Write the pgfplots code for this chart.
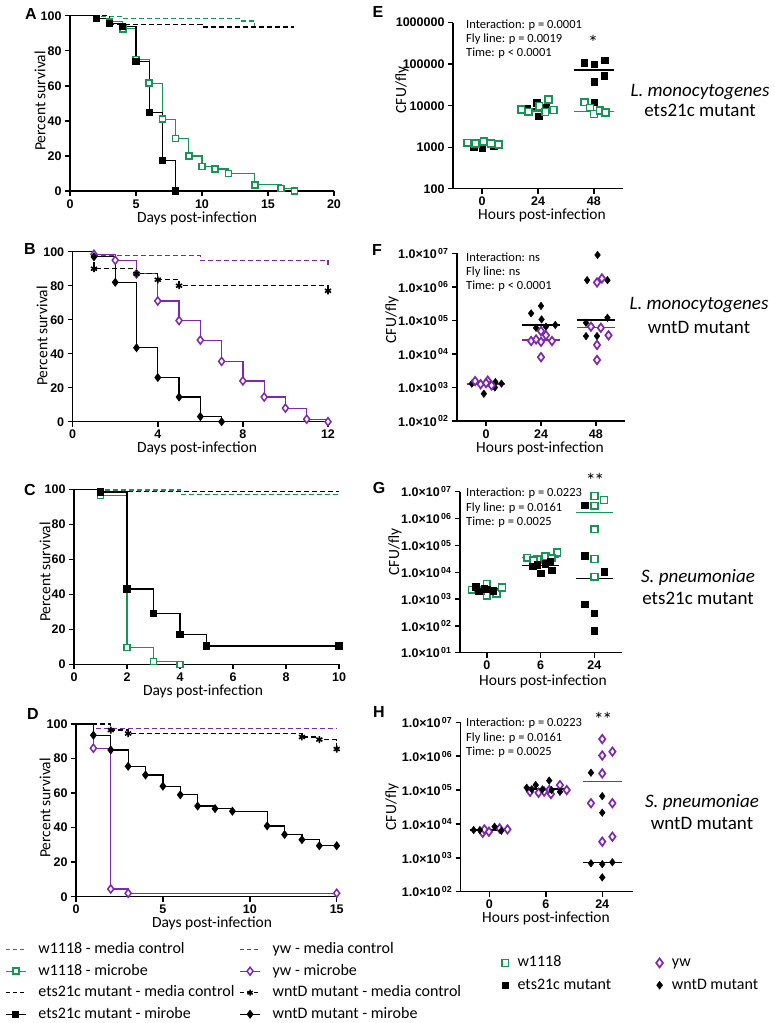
\documentclass[border=0pt]{standalone}
\usepackage{fontspec}
\setmainfont{Carlito}
\newfontfamily\arial{Liberation Sans}
\usepackage{pgfplots}
\pgfplotsset{compat=1.18}

\definecolor{pgreen}{RGB}{22,150,85}
\definecolor{ppurple}{RGB}{125,40,175}

\newcommand\tickfont{\arial\bfseries\fontsize{12.5}{14}\selectfont}
\newcommand\labfont{\fontsize{15.5}{18}\selectfont}
\newcommand\statfont{\fontsize{12.5}{15}\selectfont}
\newcommand\bigfont{\fontsize{19}{22}\selectfont}
\newcommand\legfont{\fontsize{16}{19}\selectfont}
\newcommand\letfont{\arial\bfseries\fontsize{16}{18}\selectfont}
\newcommand\sci[1]{1.0×10\textsuperscript{\,#1}}

\pgfplotsset{
 base/.style={scale only axis, anchor=south west, axis lines=left,
   axis line style={-, line width=1.5pt}, tick style={black, line width=1.4pt},
   tick align=outside, major tick length=5pt, clip=false,
   ticklabel style={font=\tickfont}, /pgf/number format/assume math mode=true,
   minor tick num=0},
 surv/.style={base, ymin=0, ymax=100, ytick={0,20,40,60,80,100}},
 scat/.style={base, yminorticks=false, xtick={0,1,2}},
 km/.style={const plot, line width=1.2pt},
 dsh/.style={dash pattern=on 5pt off 3pt},
 gsq/.style={pgreen, mark=square*, mark options={fill=white, line width=1.5pt, solid}, mark size=3pt},
 bsq/.style={black, mark=square*, mark size=3pt, mark options={solid}},
 pdi/.style={ppurple, mark=diamond*, mark options={fill=white, line width=1.5pt, solid}, mark size=4pt},
 bdi/.style={black, mark=diamond*, mark size=3.6pt, mark options={solid}},
 bast/.style={black, mark=asterisk, mark size=3.5pt, mark options={solid, line width=1.6pt}},
 sgsq/.style={only marks, pgreen, mark=square*, mark options={fill=white, line width=1.6pt}, mark size=3.4pt},
 sbsq/.style={only marks, black, mark=square*, mark size=3.2pt},
 spdi/.style={only marks, ppurple, mark=diamond*, mark options={fill=white, line width=1.7pt}, mark size=4.2pt},
 sbdi/.style={only marks, black, mark=diamond*, mark size=3.8pt},
 mline/.style={line width=1.5pt},
}

\begin{document}
\begin{tikzpicture}
\useasboundingbox (0,0) rectangle (774pt,-1023pt);

% ---------------- Panel A
\begin{axis}[surv, at={(70pt,-191pt)}, width=264pt, height=175.3pt, xmin=0, xmax=20, xtick={0,5,10,15,20}]
\addplot[km, pgreen, dsh] coordinates {(0,100)(2,99.5)(4,98.5)(13,97)(14,93.5)(17,93.5)};
\addplot[km, black, dsh] coordinates {(0,100)(3,95)(10,93.5)(17,93.5)};
\addplot[km, gsq, mark phase=2] coordinates {(0,100)(2,98.5)(3,96.5)(4,92.5)(5,75)(6,61.5)(7,41)(8,30)(9,20)(10,14)(11,12.5)(12,10)(14,3.5)(16,1.5)(17,0)};
\addplot[km, bsq, mark phase=2] coordinates {(0,100)(2,98.5)(3,95.5)(4,94)(5,74)(6,45)(7,17.5)(8,0)};
\end{axis}

% ---------------- Panel B
\begin{axis}[surv, at={(72.7pt,-421.7pt)}, width=255.3pt, height=170pt, xmin=0, xmax=12, xtick={0,4,8,12}]
\addplot[km, ppurple, dsh] coordinates {(0,100)(1,98)(6,95)(12,92)};
\addplot[km, pdi, mark phase=2] coordinates {(0,100)(1,98.5)(2,95)(3,87)(4,71)(5,59.5)(6,48)(7,35.5)(8,24)(9,14.5)(10,8)(11,1.5)(12,0)};
\addplot[km, bast, dsh, mark phase=2] coordinates {(0,100)(1,90)(3,87)(4,83.5)(5,80)(12,77)};
\addplot[km, bdi, mark phase=2] coordinates {(0,100)(1,97)(2,82)(3,43.5)(4,26)(5,14.5)(6,3)(7,0)};
\end{axis}

% ---------------- Panel C
\begin{axis}[surv, at={(74pt,-664.3pt)}, width=265pt, height=175pt, xmin=0, xmax=10, xtick={0,2,4,6,8,10}]
\addplot[km, pgreen, dsh] coordinates {(0,100)(1,99.6)(4,97)(10,97)};
\addplot[km, black, dsh] coordinates {(0,100)(1,98.7)(10,98.7)};
\addplot[km, gsq, mark phase=2] coordinates {(0,100)(1,96.5)(2,9.5)(3,1.5)(4,0)};
\addplot[km, bsq, mark phase=2] coordinates {(0,100)(1,98.5)(2,43)(3,29)(4,17)(5,10.5)(10,10.5)};
\end{axis}

% ---------------- Panel D
\begin{axis}[surv, at={(76pt,-896.7pt)}, width=260.7pt, height=172.7pt, xmin=0, xmax=15, xtick={0,5,10,15}]
\addplot[km, ppurple, dsh] coordinates {(0,100)(1,97.5)(15,97.5)};
\addplot[km, bast, dsh, mark phase=2] coordinates {(0,100)(2,96.5)(3,94.5)(13,92.5)(14,91)(15,85.5)};
\addplot[km, pdi, mark phase=2] coordinates {(0,100)(1,86)(2,4.5)(3,2)(15,2)};
\addplot[km, bdi, mark phase=2] coordinates {(0,100)(1,93.5)(2,85)(3,75.5)(4,70.5)(5,64)(6,59)(7,52.5)(8,51)(9,49.5)(11,41)(12,36)(13,33)(14,29.5)(15,29.5)};
\end{axis}

% ---------------- Panel E
\begin{semilogyaxis}[scat, at={(453pt,-188.7pt)}, width=170pt, height=166pt, xmin=-0.52, xmax=2.52,
  ymin=100, ymax=1000000, xticklabels={0,24,48},
  ytick={100,1000,10000,100000,1000000}, yticklabels={100,1000,10000,100000,1000000}]
\addplot[mline, black] coordinates {(-0.35,1100)(0.35,1100)};
\addplot[mline, black] coordinates {(0.65,8300)(1.35,8300)};
\addplot[mline, black] coordinates {(1.65,72300)(2.35,72300)};
\addplot[sbsq] coordinates {(-0.15,1030)(0,975)(0.21,1090)(0.7,8300)(0.8,8480)(0.98,11800)(1.01,5640)(1.15,9120)(1.83,108700)(2.01,99000)(2.19,126000)(2.18,52800)(2.01,37900)(2.01,12200)};
\addplot[mline, pgreen] coordinates {(-0.35,1250)(0.35,1250)};
\addplot[mline, pgreen] coordinates {(0.65,7400)(1.35,7400)};
\addplot[mline, pgreen] coordinates {(1.65,7160)(2.35,7160)};
\addplot[sgsq] coordinates {(-0.26,1280)(-0.12,1236)(0.03,1358)(0.16,1236)(0.30,1170)(0.70,8170)(0.83,7160)(1.02,9820)(1.19,14200)(1.13,7030)(1.28,7870)(1.83,12100)(1.93,8900)(2.0,6300)(2.11,7600)(2.21,6800)};
\end{semilogyaxis}

% ---------------- Panel F
\begin{semilogyaxis}[scat, at={(457pt,-421pt)}, width=168pt, height=167.7pt, xmin=-0.53, xmax=2.53,
  ymin=100, ymax=10000000, xticklabels={0,24,48},
  ytick={100,1000,10000,100000,1000000,10000000}, yticklabels={\sci{02},\sci{03},\sci{04},\sci{05},\sci{06},\sci{07}}]
\addplot[mline, black] coordinates {(-0.35,1270)(0.35,1270)};
\addplot[mline, black] coordinates {(0.65,73000)(1.35,73000)};
\addplot[mline, black] coordinates {(1.65,103000)(2.35,103000)};
\addplot[sbdi] coordinates {(-0.26,1300)(-0.04,650)(0.16,1000)(0.17,1450)(0.28,1300)(0.06,1300)(0.82,162000)(1.0,270000)(1.01,107000)(1.26,73000)(0.91,60000)(1.09,65000)(2.03,8900000)(1.84,1580000)(2.21,1580000)(1.82,85000)(2.21,120000)(1.82,34000)(2.02,34000)};
\addplot[mline, ppurple] coordinates {(-0.35,1270)(0.35,1270)};
\addplot[mline, ppurple] coordinates {(0.65,26000)(1.35,26000)};
\addplot[mline, ppurple] coordinates {(1.65,62000)(2.35,62000)};
\addplot[spdi] coordinates {(-0.2,1550)(-0.1,1250)(0.03,1600)(0.1,1150)(0.0,1350)(0.82,24300)(1.0,48000)(1.09,36000)(1.2,24300)(1.0,23000)(1.0,8000)(0.91,27000)(2.02,1350000)(2.11,1780000)(1.91,65000)(2.09,60000)(2.23,36000)(2.02,18600)(2.02,6600)};
\end{semilogyaxis}

% ---------------- Panel G
\begin{semilogyaxis}[scat, at={(460pt,-652.7pt)}, width=161.7pt, height=161pt, xmin=-0.5, xmax=2.51,
  ymin=10, ymax=10000000, xticklabels={0,6,24},
  ytick={10,100,1000,10000,100000,1000000,10000000}, yticklabels={\sci{01},\sci{02},\sci{03},\sci{04},\sci{05},\sci{06},\sci{07}}]
\addplot[mline, pgreen] coordinates {(-0.35,2500)(0.35,2500)};
\addplot[mline, pgreen] coordinates {(0.65,35000)(1.35,35000)};
\addplot[mline, pgreen] coordinates {(1.65,1660000)(2.35,1660000)};
\addplot[sgsq] coordinates {(-0.28,2200)(0,3650)(0,1330)(0.18,1630)(0.28,2700)(-0.12,2100)(0.75,34700)(0.94,30000)(1.09,38000)(1.31,53700)(0.87,28000)(1.2,33000)(2.0,6900000)(2.18,4900000)(2.0,3000000)(2.0,400000)(2.0,31000)(2.0,6800)};
\addplot[sbsq] coordinates {(-0.21,2880)(-0.15,2000)(0,2350)(0.12,2050)(-0.05,2600)(0.85,17000)(1.0,9100)(1.21,12000)(1.18,26000)(1.09,21000)(0.94,19000)(1.82,3200000)(1.82,41000)(2.18,10500)(1.82,650)(2.0,295)(2.0,66)};
\addplot[mline, black] coordinates {(-0.35,2500)(0.35,2500)};
\addplot[mline, black] coordinates {(0.65,17800)(1.35,17800)};
\addplot[mline, black] coordinates {(1.65,5900)(2.35,5900)};
\end{semilogyaxis}

% ---------------- Panel H
\begin{semilogyaxis}[scat, at={(460.7pt,-891.7pt)}, width=172pt, height=169.4pt, xmin=-0.51, xmax=2.54,
  ymin=100, ymax=10000000, xticklabels={0,6,24},
  ytick={100,1000,10000,100000,1000000,10000000}, yticklabels={\sci{02},\sci{03},\sci{04},\sci{05},\sci{06},\sci{07}}]
\addplot[mline, ppurple] coordinates {(-0.35,6600)(0.35,6600)};
\addplot[mline, ppurple] coordinates {(0.65,107000)(1.35,107000)};
\addplot[mline, ppurple] coordinates {(1.65,178000)(2.35,178000)};
\addplot[spdi] coordinates {(-0.12,5500)(-0.01,5900)(0.18,7400)(0.32,6900)(-0.09,6900)(0.72,89000)(0.87,83000)(1.06,100000)(1.25,140000)(1.37,100000)(1.09,76000)(0.97,90000)(2.0,3200000)(2.0,1050000)(2.18,1360000)(2.0,310000)(1.8,41000)(2.18,41000)(2.0,3000)(2.18,4200)};
\addplot[sbdi] coordinates {(-0.28,6600)(-0.17,6600)(0.09,8300)(0.21,6300)(0.66,117000)(0.82,141000)(1.06,190000)(0.94,105000)(1.25,89000)(0.75,105000)(1.1,100000)(1.8,325000)(2.0,66000)(2.0,21500)(1.8,690)(2.0,650)(2.18,740)(2.0,265)};
\addplot[mline, black] coordinates {(-0.35,6600)(0.35,6600)};
\addplot[mline, black] coordinates {(0.65,107000)(1.35,107000)};
\addplot[mline, black] coordinates {(1.65,720)(2.35,720)};
\end{semilogyaxis}

% ---------------- Left legend
\begin{axis}[hide axis, scale only axis, width=1pt, height=1pt, at={(5pt,-941.5pt)}, anchor=north west,
  xmin=0, xmax=1, ymin=0, ymax=1, legend columns=2, legend cell align=left,
  legend image code/.code={\draw[mark repeat=2, mark phase=2, #1] plot coordinates {(0pt,0pt)(10pt,0pt)(20pt,0pt)};},
  legend style={at={(0,1)}, anchor=north west, draw=none, fill=none, inner sep=0pt, font=\legfont,
    row sep=5.5pt, nodes={inner sep=1pt, text height=11pt, text depth=3pt},
    /tikz/every odd column/.append style={column sep=11pt},
    /tikz/every even column/.append style={column sep=4pt}}]
\addlegendimage{pgreen, dash pattern=on 4pt off 3pt, line width=1.2pt}
\addlegendentry{w1118 - media control}
\addlegendimage{ppurple, dash pattern=on 4pt off 3pt, line width=1.2pt}
\addlegendentry{yw - media control}
\addlegendimage{pgreen, line width=1.2pt, mark=square*, mark options={fill=white, line width=1.5pt}, mark size=3pt}
\addlegendentry{w1118 - microbe}
\addlegendimage{ppurple, line width=1.2pt, mark=diamond*, mark options={fill=white, line width=1.5pt}, mark size=4pt}
\addlegendentry{yw - microbe}
\addlegendimage{black, dash pattern=on 4pt off 3pt, line width=1.2pt}
\addlegendentry{ets21c mutant - media control}
\addlegendimage{black, dash pattern=on 4pt off 3pt, line width=1.2pt, mark=asterisk, mark options={solid, line width=1.5pt}, mark size=3pt}
\addlegendentry{wntD mutant - media control}
\addlegendimage{black, line width=1.2pt, mark=square*, mark size=3pt}
\addlegendentry{ets21c mutant - mirobe}
\addlegendimage{black, line width=1.2pt, mark=diamond*, mark size=3.6pt}
\addlegendentry{wntD mutant - mirobe}
\end{axis}

% ---------------- Right legend
\begin{axis}[hide axis, scale only axis, width=1pt, height=1pt, at={(501.5pt,-954.7pt)}, anchor=north west,
  xmin=0, xmax=1, ymin=0, ymax=1, legend columns=2, legend cell align=left,
  legend image code/.code={\draw[#1] plot coordinates {(6pt,0pt)};},
  legend style={at={(0,1)}, anchor=north west, draw=none, fill=none, inner sep=0pt, font=\legfont,
    row sep=6.3pt, nodes={inner sep=1pt, text height=11pt, text depth=3pt},
    /tikz/every odd column/.append style={column sep=8pt},
    /tikz/every even column/.append style={column sep=44pt}}]
\addlegendimage{only marks, pgreen, mark=square*, mark options={fill=white, line width=1.6pt}, mark size=3.4pt}
\addlegendentry{w1118}
\addlegendimage{only marks, ppurple, mark=diamond*, mark options={fill=white, line width=1.7pt}, mark size=4.5pt}
\addlegendentry{yw}
\addlegendimage{only marks, black, mark=square*, mark size=3pt}
\addlegendentry{ets21c mutant}
\addlegendimage{only marks, black, mark=diamond*, mark size=4pt}
\addlegendentry{wntD mutant}
\end{axis}

% ---------------- Texts
\node[font=\letfont] at (31pt,-13.5pt) {A};
\node[font=\letfont] at (30pt,-249pt) {B};
\node[font=\letfont] at (30pt,-490pt) {C};
\node[font=\letfont] at (33pt,-714pt) {D};
\node[font=\letfont] at (378pt,-12pt) {E};
\node[font=\letfont] at (377pt,-250pt) {F};
\node[font=\letfont] at (379pt,-488pt) {G};
\node[font=\letfont] at (379pt,-712pt) {H};

\node[font=\labfont, rotate=90] at (40pt,-101pt) {Percent survival};
\node[font=\labfont, rotate=90] at (42pt,-336pt) {Percent survival};
\node[font=\labfont, rotate=90] at (45pt,-572pt) {Percent survival};
\node[font=\labfont, rotate=90] at (45pt,-808pt) {Percent survival};
\node[font=\labfont] at (197pt,-218pt) {Days post-infection};
\node[font=\labfont] at (197pt,-448pt) {Days post-infection};
\node[font=\labfont] at (203pt,-691pt) {Days post-infection};
\node[font=\labfont] at (212pt,-923.5pt) {Days post-infection};

\node[font=\labfont, rotate=90] at (402pt,-90pt) {CFU/fly};
\node[font=\labfont, rotate=90] at (392pt,-320pt) {CFU/fly};
\node[font=\labfont, rotate=90] at (395pt,-552pt) {CFU/fly};
\node[font=\labfont, rotate=90] at (392pt,-807pt) {CFU/fly};
\node[font=\labfont] at (542pt,-215pt) {Hours post-infection};
\node[font=\labfont] at (540pt,-448pt) {Hours post-infection};
\node[font=\labfont] at (543pt,-681pt) {Hours post-infection};
\node[font=\labfont] at (546pt,-918pt) {Hours post-infection};

\node[font=\statfont, anchor=west, inner sep=0pt] at (466pt,-25pt) {Interaction: p = 0.0001};
\node[font=\statfont, anchor=west, inner sep=0pt] at (466pt,-39pt) {Fly line: p = 0.0019};
\node[font=\statfont, anchor=west, inner sep=0pt] at (466pt,-53pt) {Time: p < 0.0001};
\node[font=\statfont, anchor=west, inner sep=0pt] at (466pt,-257pt) {Interaction: ns};
\node[font=\statfont, anchor=west, inner sep=0pt] at (466pt,-272pt) {Fly line: ns};
\node[font=\statfont, anchor=west, inner sep=0pt] at (466pt,-286pt) {Time: p < 0.0001};
\node[font=\statfont, anchor=west, inner sep=0pt] at (466pt,-493pt) {Interaction: p = 0.0223};
\node[font=\statfont, anchor=west, inner sep=0pt] at (466pt,-508pt) {Fly line: p = 0.0161};
\node[font=\statfont, anchor=west, inner sep=0pt] at (466pt,-522pt) {Time: p = 0.0025};
\node[font=\statfont, anchor=west, inner sep=0pt] at (466pt,-723pt) {Interaction: p = 0.0223};
\node[font=\statfont, anchor=west, inner sep=0pt] at (466pt,-738pt) {Fly line: p = 0.0161};
\node[font=\statfont, anchor=west, inner sep=0pt] at (466pt,-752pt) {Time: p = 0.0025};

\node[font=\fontsize{20}{22}\selectfont] at (593pt,-42pt) {*};
\node[font=\fontsize{20}{22}\selectfont] at (595pt,-480pt) {*\kern-1.5pt*};
\node[font=\fontsize{20}{22}\selectfont] at (603pt,-719pt) {*\kern-1.5pt*};

\node[font=\bigfont] at (700pt,-92pt) {\itshape L. monocytogenes};
\node[font=\bigfont] at (700pt,-110pt) {ets21c mutant};
\node[font=\bigfont] at (699pt,-305pt) {\itshape L. monocytogenes};
\node[font=\bigfont] at (699pt,-327pt) {wntD mutant};
\node[font=\bigfont] at (698pt,-577pt) {\itshape S. pneumoniae};
\node[font=\bigfont] at (698pt,-598pt) {ets21c mutant};
\node[font=\bigfont] at (702pt,-802pt) {\itshape S. pneumoniae};
\node[font=\bigfont] at (702pt,-823pt) {wntD mutant};
\end{tikzpicture}
\end{document}
